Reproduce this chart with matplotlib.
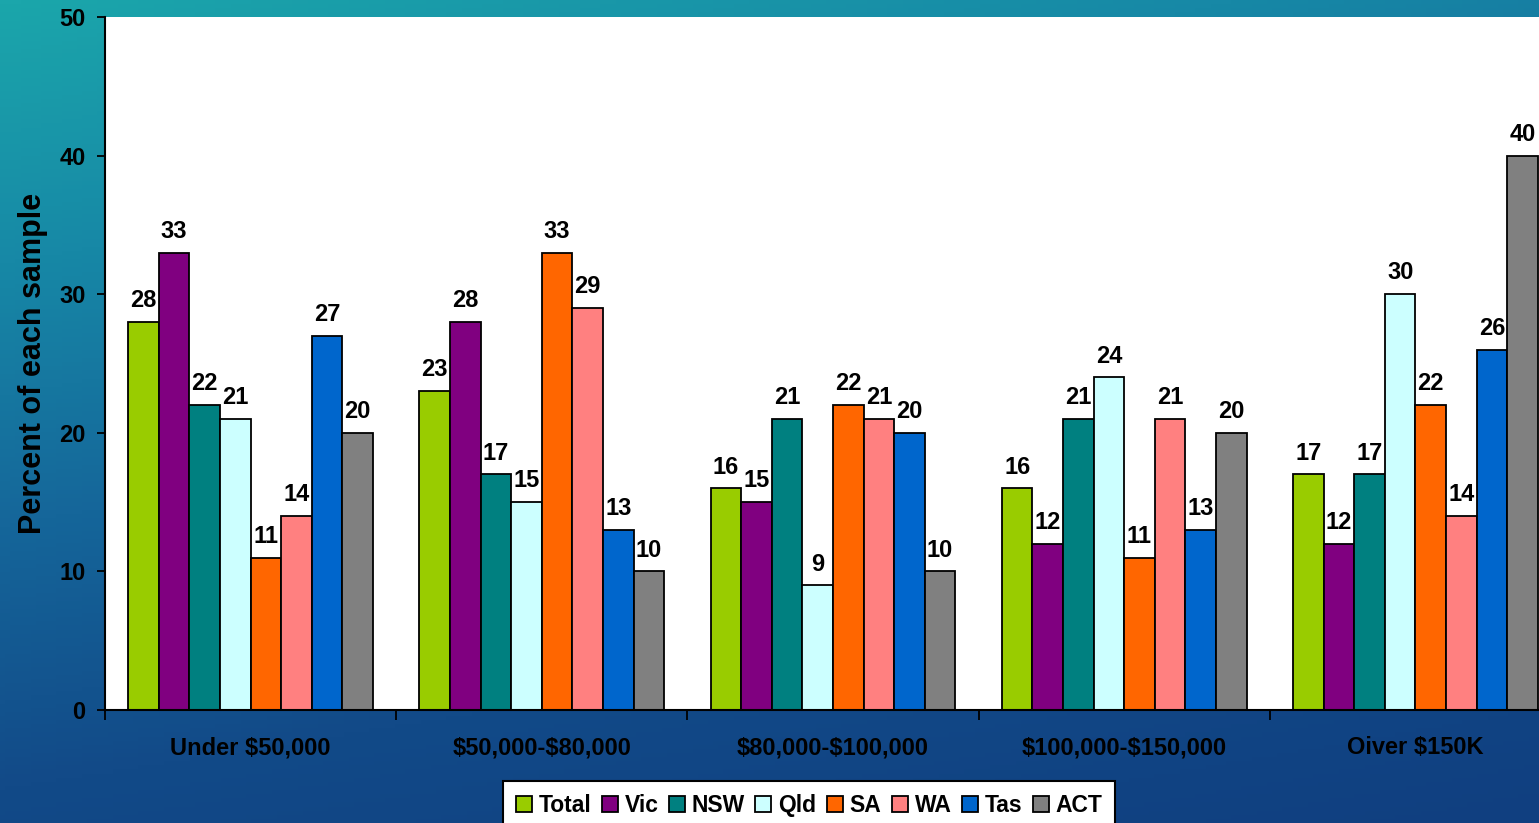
import numpy as np
import matplotlib
matplotlib.use("Agg")
import matplotlib.pyplot as plt
from matplotlib.colors import LinearSegmentedColormap

plt.rcParams['font.family'] = ['Liberation Sans', 'DejaVu Sans']
plt.rcParams['font.weight'] = 'bold'
plt.rcParams['text.parse_math'] = False  # dollar signs are literal

# Income brackets and share of each state's sample
categories = ['Under $50,000', '$50,000-$80,000', '$80,000-$100,000',
              '$100,000-$150,000', 'Oiver $150K']
series = ['Total', 'Vic', 'NSW', 'Qld', 'SA', 'WA', 'Tas', 'ACT']
total = [28, 23, 16, 16, 17]
vic = [33, 28, 15, 12, 12]
nsw = [22, 17, 21, 21, 17]
qld = [21, 15, 9, 24, 30]
sa = [11, 33, 22, 11, 22]
wa = [14, 29, 21, 21, 14]
tas = [27, 13, 20, 13, 26]
act = [20, 10, 10, 20, 40]
values = [total, vic, nsw, qld, sa, wa, tas, act]
colors = ['#99CC00', '#800080', '#008080', '#CCFFFF',
          '#FF6600', '#FF8080', '#0066CC', '#808080']

fig = plt.figure(figsize=(15.39, 8.23), dpi=100)

# teal-to-navy backdrop
bg = fig.add_axes([0, 0, 1, 1], zorder=-10)
ny, nx = 200, 300
yy, xx = np.mgrid[0:1:ny * 1j, 0:1:nx * 1j]
t = np.clip(0.75 * yy + 0.3 * xx * (1 - yy * 0.3), 0, 1)
cmap = LinearSegmentedColormap.from_list(
    'bg', ['#1ba6ab', '#1788a6', '#15669a', '#124a88', '#103f80'])
bg.imshow(t, cmap=cmap, aspect='auto', extent=[0, 1, 0, 1], origin='upper')
bg.axis('off')

ax = fig.add_axes([105 / 1539, 113 / 823, 1456 / 1539, 693 / 823])
ax.set_facecolor('white')

x = np.arange(len(categories))
n = len(series)
bw = 0.105
for i, (name, vals, c) in enumerate(zip(series, values, colors)):
    pos = x + (i - (n - 1) / 2) * bw
    bars = ax.bar(pos, vals, bw, color=c, edgecolor='black', linewidth=1.3,
                  label=name)
    ax.bar_label(bars, padding=7, fontsize=17, fontweight='bold')

ax.set_xlim(-0.5, len(categories) - 0.5)
ax.set_ylim(0, 50)
ax.set_yticks(range(0, 51, 10))
ax.set_xticks(x)
ax.set_xticklabels(categories, fontsize=17, fontweight='bold')
ax.set_xticks(np.arange(-0.5, len(categories), 1), minor=True)
ax.tick_params(axis='x', which='major', length=0, pad=19)
ax.tick_params(axis='x', which='minor', length=7, width=1.3, direction='out')
ax.tick_params(axis='y', length=6, width=1.3, labelsize=17, pad=8)
for lbl in ax.get_yticklabels():
    lbl.set_fontweight('bold')

ax.spines['top'].set_visible(False)
ax.spines['right'].set_visible(False)
ax.spines['left'].set_linewidth(1.5)
ax.spines['bottom'].set_linewidth(1.5)

ax.set_ylabel('Percent of each sample', fontsize=22, fontweight='bold',
              labelpad=8)

leg = fig.legend(loc='upper center', bbox_to_anchor=(809 / 1539, 42 / 823),
                 ncol=n, frameon=True, fancybox=False, edgecolor='black',
                 facecolor='white', framealpha=1,
                 handlelength=0.7, handleheight=0.7, handletextpad=0.3,
                 columnspacing=0.45, borderpad=0.55, borderaxespad=0,
                 prop={'size': 16.5, 'weight': 'bold'})
leg.get_frame().set_linewidth(1.5)

fig.savefig('out.png', dpi=100)
